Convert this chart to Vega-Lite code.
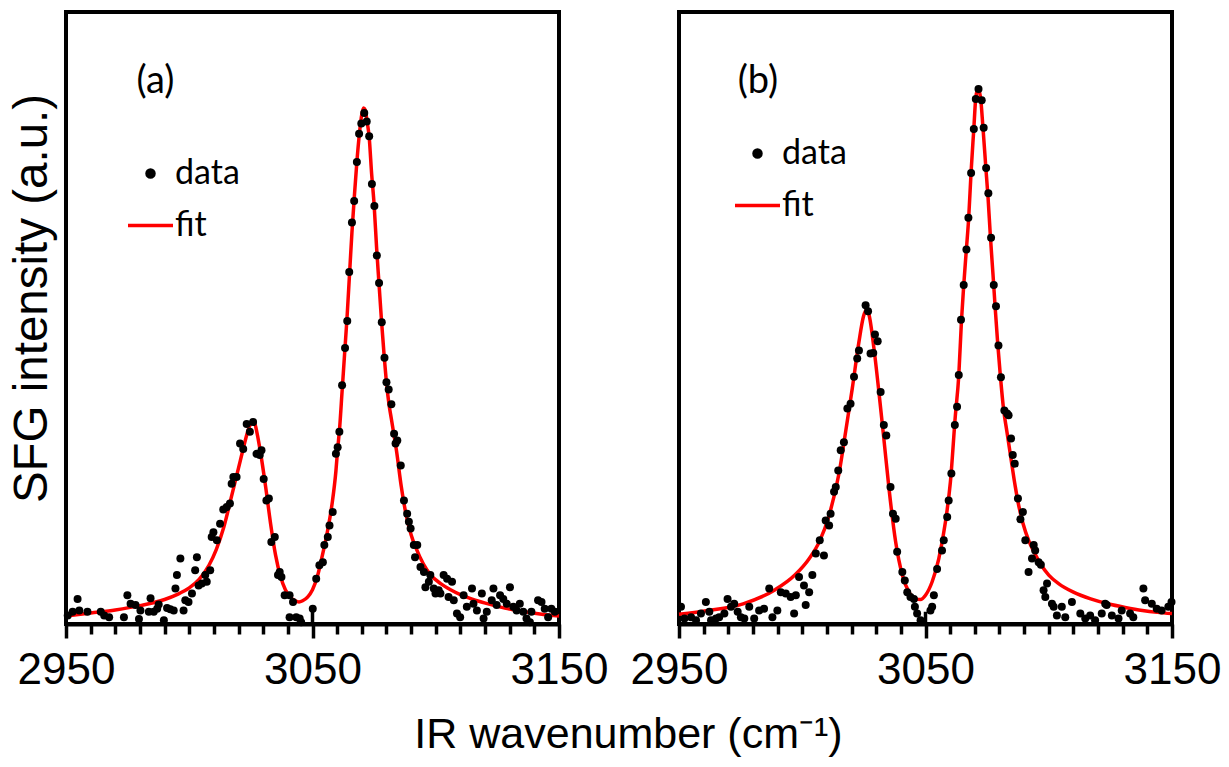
{
  "$schema": "https://vega.github.io/schema/vega-lite/v6.json",
  "background": "white",
  "padding": {"left": 6, "top": 10, "right": 5, "bottom": 5},
  "bounds": "flush",
  "spacing": 120,
  "title": {
    "text": "IR wavenumber (cm⁻¹)",
    "orient": "bottom",
    "anchor": "middle",
    "font": "Liberation Sans",
    "fontSize": 43,
    "fontWeight": "normal",
    "color": "black",
    "offset": 20,
    "dx": 14
  },
  "datasets": {
    "fit_a": [
      {"wn": 2950, "sfg": 1.3}, {"wn": 2960, "sfg": 1.8}, {"wn": 2970, "sfg": 2.3}, {"wn": 2980, "sfg": 3.0},
      {"wn": 2990, "sfg": 4.0}, {"wn": 2995, "sfg": 4.8}, {"wn": 3000, "sfg": 5.9}, {"wn": 3004, "sfg": 7.3},
      {"wn": 3008, "sfg": 9.6}, {"wn": 3011, "sfg": 12.2}, {"wn": 3014, "sfg": 15.8}, {"wn": 3017, "sfg": 20.6},
      {"wn": 3020, "sfg": 25.5}, {"wn": 3022, "sfg": 28.8}, {"wn": 3024, "sfg": 31.8}, {"wn": 3025.5, "sfg": 33.0},
      {"wn": 3026.5, "sfg": 32.8}, {"wn": 3027.5, "sfg": 31.2}, {"wn": 3029, "sfg": 27.8}, {"wn": 3031, "sfg": 22.4},
      {"wn": 3033, "sfg": 16.4}, {"wn": 3035, "sfg": 11.3}, {"wn": 3037, "sfg": 7.8}, {"wn": 3039, "sfg": 5.6},
      {"wn": 3041, "sfg": 4.4}, {"wn": 3043, "sfg": 3.8}, {"wn": 3044.5, "sfg": 3.6}, {"wn": 3046, "sfg": 3.8},
      {"wn": 3048, "sfg": 4.4}, {"wn": 3050, "sfg": 5.6}, {"wn": 3052, "sfg": 7.8}, {"wn": 3054, "sfg": 11.2},
      {"wn": 3056, "sfg": 15.0}, {"wn": 3058, "sfg": 19.8}, {"wn": 3059.5, "sfg": 25.0}, {"wn": 3060.2, "sfg": 28.5},
      {"wn": 3061, "sfg": 32.0}, {"wn": 3062, "sfg": 38.0}, {"wn": 3063, "sfg": 44.0}, {"wn": 3064, "sfg": 50.0},
      {"wn": 3065, "sfg": 57.0}, {"wn": 3066, "sfg": 64.0}, {"wn": 3067, "sfg": 70.0}, {"wn": 3068, "sfg": 75.5},
      {"wn": 3069, "sfg": 80.0}, {"wn": 3070, "sfg": 83.3}, {"wn": 3070.7, "sfg": 84.3}, {"wn": 3071.4, "sfg": 84.0},
      {"wn": 3072, "sfg": 82.5}, {"wn": 3073, "sfg": 79.5}, {"wn": 3074, "sfg": 73.5}, {"wn": 3075, "sfg": 68.5},
      {"wn": 3076, "sfg": 61.5}, {"wn": 3077, "sfg": 55.5}, {"wn": 3078, "sfg": 49.5}, {"wn": 3079, "sfg": 44.2},
      {"wn": 3080, "sfg": 39.5}, {"wn": 3081, "sfg": 36.0}, {"wn": 3082, "sfg": 33.5}, {"wn": 3083, "sfg": 31.0},
      {"wn": 3084, "sfg": 28.5}, {"wn": 3086, "sfg": 22.5}, {"wn": 3088, "sfg": 17.8}, {"wn": 3090, "sfg": 14.6},
      {"wn": 3092, "sfg": 12.4}, {"wn": 3095, "sfg": 9.8}, {"wn": 3098, "sfg": 8.0}, {"wn": 3102, "sfg": 6.6},
      {"wn": 3106, "sfg": 5.6}, {"wn": 3110, "sfg": 4.8}, {"wn": 3116, "sfg": 3.9}, {"wn": 3122, "sfg": 3.2},
      {"wn": 3128, "sfg": 2.6}, {"wn": 3136, "sfg": 2.0}, {"wn": 3143, "sfg": 1.6}, {"wn": 3150, "sfg": 1.3}
    ],
    "data_a": [
      {"wn": 2950.7, "sfg": 1.4}, {"wn": 2952.7, "sfg": 2.0}, {"wn": 2954.7, "sfg": 4.1}, {"wn": 2955.4, "sfg": 2.2},
      {"wn": 2958.7, "sfg": 2.0}, {"wn": 2964.1, "sfg": 2.0}, {"wn": 2965.5, "sfg": 1.4}, {"wn": 2967.5, "sfg": 1.1},
      {"wn": 2973.5, "sfg": 1.1}, {"wn": 2974.9, "sfg": 4.7}, {"wn": 2976.2, "sfg": 3.3}, {"wn": 2978.2, "sfg": 3.1},
      {"wn": 2980.2, "sfg": 2.2}, {"wn": 2979.6, "sfg": 0.8}, {"wn": 2983.6, "sfg": 2.0}, {"wn": 2984.3, "sfg": 4.2},
      {"wn": 2985.6, "sfg": 2.0}, {"wn": 2987.0, "sfg": 2.5}, {"wn": 2987.6, "sfg": 3.2}, {"wn": 2989.7, "sfg": 0.6},
      {"wn": 2991.0, "sfg": 2.6}, {"wn": 2992.3, "sfg": 2.4}, {"wn": 2993.7, "sfg": 2.2}, {"wn": 2994.4, "sfg": 5.8},
      {"wn": 2995.0, "sfg": 8.0}, {"wn": 2996.4, "sfg": 10.7}, {"wn": 2997.7, "sfg": 2.2}, {"wn": 2998.4, "sfg": 3.9},
      {"wn": 2999.7, "sfg": 3.6}, {"wn": 3001.1, "sfg": 5.0}, {"wn": 3002.4, "sfg": 8.8}, {"wn": 3003.1, "sfg": 10.9},
      {"wn": 3003.8, "sfg": 6.3}, {"wn": 3005.1, "sfg": 6.6}, {"wn": 3006.5, "sfg": 8.0}, {"wn": 3007.1, "sfg": 6.9},
      {"wn": 3008.5, "sfg": 8.8}, {"wn": 3009.1, "sfg": 14.2}, {"wn": 3009.8, "sfg": 15.0}, {"wn": 3011.2, "sfg": 13.7},
      {"wn": 3012.5, "sfg": 16.4}, {"wn": 3013.8, "sfg": 18.7}, {"wn": 3015.2, "sfg": 19.1}, {"wn": 3016.5, "sfg": 19.7},
      {"wn": 3017.2, "sfg": 22.9}, {"wn": 3017.9, "sfg": 24.0}, {"wn": 3019.2, "sfg": 24.0}, {"wn": 3020.6, "sfg": 29.5},
      {"wn": 3021.9, "sfg": 28.6}, {"wn": 3023.3, "sfg": 32.7}, {"wn": 3024.6, "sfg": 31.4}, {"wn": 3025.9, "sfg": 33.0},
      {"wn": 3027.3, "sfg": 27.8}, {"wn": 3028.6, "sfg": 27.6}, {"wn": 3029.3, "sfg": 28.4}, {"wn": 3030.2, "sfg": 23.7},
      {"wn": 3031.3, "sfg": 20.2}, {"wn": 3032.3, "sfg": 20.5}, {"wn": 3033.3, "sfg": 13.4}, {"wn": 3034.7, "sfg": 14.2},
      {"wn": 3036.0, "sfg": 8.0}, {"wn": 3036.7, "sfg": 8.5}, {"wn": 3037.4, "sfg": 7.7}, {"wn": 3038.7, "sfg": 4.7},
      {"wn": 3040.7, "sfg": 4.7}, {"wn": 3042.1, "sfg": 3.6}, {"wn": 3040.7, "sfg": 1.1}, {"wn": 3043.4, "sfg": 1.1},
      {"wn": 3044.8, "sfg": 0.9}, {"wn": 3045.4, "sfg": 0.3}, {"wn": 3050.1, "sfg": 2.5}, {"wn": 3051.5, "sfg": 7.4},
      {"wn": 3052.8, "sfg": 9.6}, {"wn": 3054.2, "sfg": 10.1}, {"wn": 3054.8, "sfg": 12.9}, {"wn": 3056.2, "sfg": 14.2},
      {"wn": 3056.9, "sfg": 16.1}, {"wn": 3058.2, "sfg": 18.3}, {"wn": 3059.5, "sfg": 27.8}, {"wn": 3060.2, "sfg": 28.9},
      {"wn": 3060.9, "sfg": 31.4}, {"wn": 3062.0, "sfg": 39.0}, {"wn": 3063.2, "sfg": 45.1}, {"wn": 3064.1, "sfg": 49.5},
      {"wn": 3064.9, "sfg": 57.5}, {"wn": 3066.0, "sfg": 65.6}, {"wn": 3066.9, "sfg": 69.1}, {"wn": 3068.0, "sfg": 75.5},
      {"wn": 3068.9, "sfg": 80.1}, {"wn": 3069.8, "sfg": 81.8}, {"wn": 3071.0, "sfg": 83.5}, {"wn": 3072.0, "sfg": 82.1},
      {"wn": 3073.0, "sfg": 79.7}, {"wn": 3074.1, "sfg": 71.9}, {"wn": 3075.1, "sfg": 68.3}, {"wn": 3076.1, "sfg": 60.2},
      {"wn": 3077.0, "sfg": 55.7}, {"wn": 3078.1, "sfg": 49.3}, {"wn": 3079.2, "sfg": 43.5}, {"wn": 3080.0, "sfg": 39.5},
      {"wn": 3080.9, "sfg": 38.3}, {"wn": 3082.0, "sfg": 35.9}, {"wn": 3083.1, "sfg": 31.1}, {"wn": 3083.7, "sfg": 29.5},
      {"wn": 3084.4, "sfg": 30.0}, {"wn": 3085.8, "sfg": 25.9}, {"wn": 3087.1, "sfg": 20.2}, {"wn": 3088.4, "sfg": 18.0},
      {"wn": 3089.1, "sfg": 16.7}, {"wn": 3089.8, "sfg": 15.6}, {"wn": 3091.1, "sfg": 12.9}, {"wn": 3092.5, "sfg": 12.9},
      {"wn": 3091.6, "sfg": 10.9}, {"wn": 3093.8, "sfg": 9.3}, {"wn": 3095.2, "sfg": 8.5}, {"wn": 3095.8, "sfg": 6.0},
      {"wn": 3097.2, "sfg": 6.9}, {"wn": 3097.8, "sfg": 8.0}, {"wn": 3099.2, "sfg": 5.8}, {"wn": 3099.9, "sfg": 5.0},
      {"wn": 3101.2, "sfg": 5.5}, {"wn": 3101.9, "sfg": 5.0}, {"wn": 3103.2, "sfg": 8.0}, {"wn": 3104.6, "sfg": 7.4},
      {"wn": 3105.2, "sfg": 4.4}, {"wn": 3106.6, "sfg": 6.9}, {"wn": 3107.3, "sfg": 3.9}, {"wn": 3108.6, "sfg": 1.7},
      {"wn": 3109.9, "sfg": 1.1}, {"wn": 3111.3, "sfg": 4.7}, {"wn": 3112.6, "sfg": 2.8}, {"wn": 3114.7, "sfg": 5.8},
      {"wn": 3115.3, "sfg": 3.3}, {"wn": 3116.7, "sfg": 2.2}, {"wn": 3118.7, "sfg": 5.0}, {"wn": 3119.4, "sfg": 0.9},
      {"wn": 3120.7, "sfg": 2.0}, {"wn": 3122.7, "sfg": 3.9}, {"wn": 3123.4, "sfg": 5.8}, {"wn": 3124.7, "sfg": 3.1},
      {"wn": 3126.1, "sfg": 4.7}, {"wn": 3127.4, "sfg": 4.1}, {"wn": 3128.8, "sfg": 3.3}, {"wn": 3130.1, "sfg": 6.0},
      {"wn": 3131.5, "sfg": 2.8}, {"wn": 3132.8, "sfg": 2.2}, {"wn": 3134.1, "sfg": 3.3}, {"wn": 3135.5, "sfg": 2.0},
      {"wn": 3136.8, "sfg": 0.9}, {"wn": 3138.2, "sfg": 0.3}, {"wn": 3138.8, "sfg": 2.0}, {"wn": 3141.5, "sfg": 3.9},
      {"wn": 3142.9, "sfg": 3.6}, {"wn": 3144.2, "sfg": 2.5}, {"wn": 3145.6, "sfg": 1.1}, {"wn": 3146.9, "sfg": 2.5},
      {"wn": 3148.3, "sfg": 2.0}
    ],
    "fit_b": [
      {"wn": 2950, "sfg": 1.6}, {"wn": 2962, "sfg": 2.2}, {"wn": 2976, "sfg": 3.3}, {"wn": 2989, "sfg": 5.6},
      {"wn": 2997, "sfg": 8.0}, {"wn": 3003, "sfg": 10.8}, {"wn": 3007, "sfg": 13.5}, {"wn": 3011, "sfg": 17.9},
      {"wn": 3015, "sfg": 24.8}, {"wn": 3017.6, "sfg": 31.4}, {"wn": 3020.3, "sfg": 38.5}, {"wn": 3023, "sfg": 46.1},
      {"wn": 3024.8, "sfg": 50.2}, {"wn": 3026, "sfg": 51.4}, {"wn": 3027.1, "sfg": 50.5}, {"wn": 3029.1, "sfg": 45.0},
      {"wn": 3031.1, "sfg": 37.9}, {"wn": 3033.1, "sfg": 30.3}, {"wn": 3035.2, "sfg": 22.1}, {"wn": 3037.9, "sfg": 13.4},
      {"wn": 3040.6, "sfg": 8.0}, {"wn": 3043.3, "sfg": 5.2}, {"wn": 3046, "sfg": 4.1}, {"wn": 3048, "sfg": 4.0},
      {"wn": 3050, "sfg": 4.7}, {"wn": 3052.7, "sfg": 6.9}, {"wn": 3055.4, "sfg": 10.7}, {"wn": 3058.1, "sfg": 16.7},
      {"wn": 3060.1, "sfg": 23.2}, {"wn": 3062.1, "sfg": 34.0}, {"wn": 3063.5, "sfg": 40.6}, {"wn": 3064.6, "sfg": 49.6},
      {"wn": 3065.5, "sfg": 55.3}, {"wn": 3066.6, "sfg": 61.3}, {"wn": 3067.5, "sfg": 66.2}, {"wn": 3068.5, "sfg": 73.9},
      {"wn": 3069.6, "sfg": 80.9}, {"wn": 3070.4, "sfg": 86.0}, {"wn": 3071.3, "sfg": 87.5}, {"wn": 3072.3, "sfg": 86.1},
      {"wn": 3073.3, "sfg": 81.2}, {"wn": 3074.4, "sfg": 75.0}, {"wn": 3075.4, "sfg": 69.5}, {"wn": 3076.3, "sfg": 63.5},
      {"wn": 3077.4, "sfg": 57.0}, {"wn": 3078.3, "sfg": 51.5}, {"wn": 3079.3, "sfg": 45.8}, {"wn": 3080.4, "sfg": 40.4},
      {"wn": 3081.7, "sfg": 35.0}, {"wn": 3083, "sfg": 31.5}, {"wn": 3084.5, "sfg": 27.5}, {"wn": 3086, "sfg": 23.5},
      {"wn": 3087.5, "sfg": 20.0}, {"wn": 3089.5, "sfg": 16.5}, {"wn": 3092, "sfg": 13.5}, {"wn": 3094, "sfg": 11.8},
      {"wn": 3097, "sfg": 9.6}, {"wn": 3100, "sfg": 8.0}, {"wn": 3104, "sfg": 6.6}, {"wn": 3110, "sfg": 5.2},
      {"wn": 3117, "sfg": 4.1}, {"wn": 3124, "sfg": 3.3}, {"wn": 3131, "sfg": 2.7}, {"wn": 3138, "sfg": 2.2},
      {"wn": 3144, "sfg": 1.9}, {"wn": 3150, "sfg": 1.7}
    ],
    "data_b": [
      {"wn": 2950.8, "sfg": 2.8}, {"wn": 2952.2, "sfg": 0.9}, {"wn": 2954.9, "sfg": 1.1}, {"wn": 2956.9, "sfg": 0.6},
      {"wn": 2958.9, "sfg": 1.7}, {"wn": 2960.9, "sfg": 3.6}, {"wn": 2962.3, "sfg": 2.0}, {"wn": 2963.0, "sfg": 0.6},
      {"wn": 2965.0, "sfg": 0.9}, {"wn": 2966.3, "sfg": 1.1}, {"wn": 2968.4, "sfg": 1.7}, {"wn": 2969.7, "sfg": 4.1},
      {"wn": 2971.1, "sfg": 2.8}, {"wn": 2972.4, "sfg": 3.3}, {"wn": 2973.8, "sfg": 2.0}, {"wn": 2975.1, "sfg": 1.1},
      {"wn": 2976.5, "sfg": 0.9}, {"wn": 2978.5, "sfg": 2.8}, {"wn": 2980.5, "sfg": 0.9}, {"wn": 2982.5, "sfg": 2.2},
      {"wn": 2984.5, "sfg": 2.5}, {"wn": 2986.6, "sfg": 5.8}, {"wn": 2987.9, "sfg": 1.1}, {"wn": 2989.9, "sfg": 2.2},
      {"wn": 2991.3, "sfg": 5.2}, {"wn": 2993.3, "sfg": 5.0}, {"wn": 2995.3, "sfg": 4.4}, {"wn": 2996.7, "sfg": 1.7},
      {"wn": 2997.4, "sfg": 4.7}, {"wn": 2998.7, "sfg": 7.7}, {"wn": 3000.7, "sfg": 6.3}, {"wn": 3001.4, "sfg": 3.1},
      {"wn": 3002.8, "sfg": 5.2}, {"wn": 3004.1, "sfg": 8.0}, {"wn": 3005.5, "sfg": 11.5}, {"wn": 3007.1, "sfg": 13.7},
      {"wn": 3008.8, "sfg": 11.2}, {"wn": 3009.5, "sfg": 16.9}, {"wn": 3010.9, "sfg": 16.1}, {"wn": 3011.5, "sfg": 18.0},
      {"wn": 3012.9, "sfg": 21.6}, {"wn": 3013.6, "sfg": 22.4}, {"wn": 3014.6, "sfg": 25.1}, {"wn": 3015.6, "sfg": 28.4},
      {"wn": 3016.9, "sfg": 29.7}, {"wn": 3018.3, "sfg": 35.2}, {"wn": 3019.6, "sfg": 36.0}, {"wn": 3021.0, "sfg": 40.4},
      {"wn": 3022.3, "sfg": 43.4}, {"wn": 3023.0, "sfg": 44.7}, {"wn": 3025.7, "sfg": 52.1}, {"wn": 3026.7, "sfg": 51.1},
      {"wn": 3027.7, "sfg": 44.2}, {"wn": 3028.8, "sfg": 44.3}, {"wn": 3029.5, "sfg": 47.3}, {"wn": 3030.6, "sfg": 46.2},
      {"wn": 3031.8, "sfg": 37.9}, {"wn": 3033.1, "sfg": 32.5}, {"wn": 3034.1, "sfg": 30.8}, {"wn": 3035.8, "sfg": 22.4},
      {"wn": 3036.8, "sfg": 18.0}, {"wn": 3037.9, "sfg": 17.2}, {"wn": 3038.5, "sfg": 11.8}, {"wn": 3040.6, "sfg": 8.5},
      {"wn": 3041.6, "sfg": 7.1}, {"wn": 3042.6, "sfg": 5.2}, {"wn": 3043.9, "sfg": 4.4}, {"wn": 3045.3, "sfg": 4.1},
      {"wn": 3045.7, "sfg": 2.8}, {"wn": 3046.6, "sfg": 1.7}, {"wn": 3048.0, "sfg": 0.6}, {"wn": 3052.0, "sfg": 2.2},
      {"wn": 3052.7, "sfg": 2.8}, {"wn": 3053.4, "sfg": 4.7}, {"wn": 3054.7, "sfg": 9.0}, {"wn": 3056.7, "sfg": 12.0},
      {"wn": 3057.4, "sfg": 13.7}, {"wn": 3058.8, "sfg": 17.5}, {"wn": 3059.4, "sfg": 20.2}, {"wn": 3060.5, "sfg": 24.6},
      {"wn": 3061.9, "sfg": 32.5}, {"wn": 3062.8, "sfg": 35.5}, {"wn": 3063.5, "sfg": 40.7}, {"wn": 3064.4, "sfg": 49.7},
      {"wn": 3065.5, "sfg": 55.4}, {"wn": 3066.6, "sfg": 61.2}, {"wn": 3067.4, "sfg": 66.4}, {"wn": 3068.5, "sfg": 73.7},
      {"wn": 3069.6, "sfg": 80.9}, {"wn": 3070.4, "sfg": 85.8}, {"wn": 3071.5, "sfg": 87.4}, {"wn": 3072.8, "sfg": 85.6},
      {"wn": 3073.6, "sfg": 81.1}, {"wn": 3074.6, "sfg": 74.5}, {"wn": 3075.5, "sfg": 70.4}, {"wn": 3076.6, "sfg": 63.1},
      {"wn": 3077.7, "sfg": 55.4}, {"wn": 3078.6, "sfg": 51.9}, {"wn": 3079.6, "sfg": 45.5}, {"wn": 3080.6, "sfg": 40.3},
      {"wn": 3082.0, "sfg": 34.9}, {"wn": 3083.1, "sfg": 34.4}, {"wn": 3083.7, "sfg": 34.1}, {"wn": 3084.7, "sfg": 30.3},
      {"wn": 3085.4, "sfg": 27.6}, {"wn": 3086.2, "sfg": 26.2}, {"wn": 3087.5, "sfg": 20.5}, {"wn": 3089.5, "sfg": 18.3},
      {"wn": 3088.5, "sfg": 17.1}, {"wn": 3090.5, "sfg": 13.7}, {"wn": 3093.9, "sfg": 12.9}, {"wn": 3094.5, "sfg": 12.0},
      {"wn": 3093.2, "sfg": 10.7}, {"wn": 3095.9, "sfg": 10.1}, {"wn": 3096.8, "sfg": 9.7}, {"wn": 3091.8, "sfg": 8.5},
      {"wn": 3097.9, "sfg": 5.5}, {"wn": 3098.6, "sfg": 4.4}, {"wn": 3099.3, "sfg": 6.6}, {"wn": 3101.3, "sfg": 3.3},
      {"wn": 3102.0, "sfg": 2.8}, {"wn": 3103.3, "sfg": 1.4}, {"wn": 3105.3, "sfg": 2.8}, {"wn": 3106.7, "sfg": 1.1},
      {"wn": 3109.4, "sfg": 3.6}, {"wn": 3112.8, "sfg": 1.7}, {"wn": 3114.8, "sfg": 0.9}, {"wn": 3116.8, "sfg": 1.4},
      {"wn": 3118.8, "sfg": 0.6}, {"wn": 3121.5, "sfg": 1.7}, {"wn": 3122.9, "sfg": 3.3}, {"wn": 3123.5, "sfg": 3.1},
      {"wn": 3125.6, "sfg": 1.4}, {"wn": 3128.3, "sfg": 0.9}, {"wn": 3129.6, "sfg": 2.2}, {"wn": 3133.0, "sfg": 1.7},
      {"wn": 3134.3, "sfg": 1.1}, {"wn": 3138.4, "sfg": 5.8}, {"wn": 3139.1, "sfg": 3.9}, {"wn": 3141.8, "sfg": 3.3},
      {"wn": 3143.8, "sfg": 2.5}, {"wn": 3145.8, "sfg": 2.2}, {"wn": 3148.5, "sfg": 2.8}, {"wn": 3149.8, "sfg": 3.6}
    ]
  },
  "resolve": {"legend": {"color": "independent"}},
  "hconcat": [
    {
      "width": 493,
      "height": 612,
      "layer": [
        {
          "data": {"name": "fit_a"},
          "mark": {"type": "line", "strokeWidth": 3.5, "interpolate": "monotone"},
          "encoding": {
            "x": {"field": "wn", "type": "quantitative"},
            "y": {"field": "sfg", "type": "quantitative"},
            "color": {
              "datum": "fit",
              "type": "nominal",
              "scale": {"domain": ["data", "fit"], "range": ["#000000", "#ff0000"]},
              "legend": {
                "orient": "none", "legendX": 60, "legendY": 137, "title": null,
                "labelFont": "Lato", "labelFontSize": 34, "labelColor": "black", "labelOffset": 0,
                "symbolSize": 2025, "symbolStrokeWidth": 3.5, "rowPadding": 10,
                "encode": {"symbols": {"update": {
                  "shape": {"signal": "datum.value === 'data' ? 'circle' : 'stroke'"},
                  "size": {"signal": "datum.value === 'data' ? 49 : 2025"},
                  "fill": {"signal": "datum.value === 'data' ? '#000000' : 'transparent'"},
                  "stroke": {"signal": "datum.value === 'data' ? 'transparent' : '#ff0000'"},
                  "strokeWidth": {"value": 3.5}
                }}}
              }
            }
          }
        },
        {
          "data": {"name": "data_a"},
          "mark": {"type": "point", "filled": true, "size": 64, "opacity": 1},
          "encoding": {
            "x": {"field": "wn", "type": "quantitative"},
            "y": {"field": "sfg", "type": "quantitative"},
            "color": {"datum": "data", "type": "nominal"}
          }
        },
        {
          "data": {"values": [{}]},
          "mark": {"type": "rule", "strokeWidth": 3.5, "color": "black"},
          "encoding": {"x": {"datum": 3050, "type": "quantitative"}, "y": {"datum": 0, "type": "quantitative"}, "y2": {"datum": 2}}
        },
        {
          "data": {"values": [{}]},
          "mark": {"type": "text", "font": "Lato", "fontSize": 38, "color": "black", "align": "center", "baseline": "middle"},
          "encoding": {"x": {"datum": 2986.3, "type": "quantitative"}, "y": {"datum": 88.6, "type": "quantitative"}, "text": {"value": "(a)"}}
        }
      ],
      "encoding": {
        "x": {
          "type": "quantitative",
          "scale": {"domain": [2950, 3150], "nice": false, "zero": false},
          "axis": {
            "title": null, "values": [2950, 2960, 2970, 2980, 2990, 3000, 3010, 3020, 3030, 3040, 3050, 3060, 3070, 3080, 3090, 3100, 3110, 3120, 3130, 3140, 3150],
            "format": "d", "labelExpr": "datum.value % 100 === 50 ? datum.label : ''",
            "labelFont": "Liberation Sans", "labelFontSize": 44, "labelColor": "black", "labelFlush": false, "labelOverlap": false,
            "labelPadding": 10, "grid": false, "domainColor": "black", "domainWidth": 4,
            "tickColor": "black", "tickWidth": 3.5,
            "tickSize": {"condition": {"test": "datum.value % 100 === 50", "value": 14}, "value": 10}
          }
        },
        "y": {
          "type": "quantitative",
          "scale": {"domain": [0, 100], "nice": false, "zero": false},
          "axis": {
            "title": "SFG intensity (a.u.)", "labels": false, "ticks": false, "domain": false, "grid": false,
            "titleFont": "Liberation Sans", "titleFontSize": 47.5, "titleFontWeight": "normal", "titleColor": "black",
            "titlePadding": 10, "titleY": 286
          }
        }
      }
    },
    {
      "width": 493,
      "height": 612,
      "layer": [
        {
          "data": {"name": "fit_b"},
          "mark": {"type": "line", "strokeWidth": 3.5, "interpolate": "monotone"},
          "encoding": {
            "x": {"field": "wn", "type": "quantitative"},
            "y": {"field": "sfg", "type": "quantitative"},
            "color": {
              "datum": "fit",
              "type": "nominal",
              "scale": {"domain": ["data", "fit"], "range": ["#000000", "#ff0000"]},
              "legend": {
                "orient": "none", "legendX": 54, "legendY": 117, "title": null,
                "labelFont": "Lato", "labelFontSize": 34, "labelColor": "black", "labelOffset": 0,
                "symbolSize": 2025, "symbolStrokeWidth": 3.5, "rowPadding": 10,
                "encode": {"symbols": {"update": {
                  "shape": {"signal": "datum.value === 'data' ? 'circle' : 'stroke'"},
                  "size": {"signal": "datum.value === 'data' ? 49 : 2025"},
                  "fill": {"signal": "datum.value === 'data' ? '#000000' : 'transparent'"},
                  "stroke": {"signal": "datum.value === 'data' ? 'transparent' : '#ff0000'"},
                  "strokeWidth": {"value": 3.5}
                }}}
              }
            }
          }
        },
        {
          "data": {"name": "data_b"},
          "mark": {"type": "point", "filled": true, "size": 64, "opacity": 1},
          "encoding": {
            "x": {"field": "wn", "type": "quantitative"},
            "y": {"field": "sfg", "type": "quantitative"},
            "color": {"datum": "data", "type": "nominal"}
          }
        },
        {
          "data": {"values": [{}]},
          "mark": {"type": "rule", "strokeWidth": 3.5, "color": "black"},
          "encoding": {"x": {"datum": 3050, "type": "quantitative"}, "y": {"datum": 0, "type": "quantitative"}, "y2": {"datum": 2}}
        },
        {
          "data": {"values": [{}]},
          "mark": {"type": "text", "font": "Lato", "fontSize": 38, "color": "black", "align": "center", "baseline": "middle"},
          "encoding": {"x": {"datum": 2982.0, "type": "quantitative"}, "y": {"datum": 88.6, "type": "quantitative"}, "text": {"value": "(b)"}}
        }
      ],
      "encoding": {
        "x": {
          "type": "quantitative",
          "scale": {"domain": [2950, 3150], "nice": false, "zero": false},
          "axis": {
            "title": null, "values": [2950, 2960, 2970, 2980, 2990, 3000, 3010, 3020, 3030, 3040, 3050, 3060, 3070, 3080, 3090, 3100, 3110, 3120, 3130, 3140, 3150],
            "format": "d", "labelExpr": "datum.value % 100 === 50 ? datum.label : ''",
            "labelFont": "Liberation Sans", "labelFontSize": 44, "labelColor": "black", "labelFlush": false, "labelOverlap": false,
            "labelPadding": 10, "grid": false, "domainColor": "black", "domainWidth": 4,
            "tickColor": "black", "tickWidth": 3.5,
            "tickSize": {"condition": {"test": "datum.value % 100 === 50", "value": 14}, "value": 10}
          }
        },
        "y": {
          "type": "quantitative",
          "scale": {"domain": [0, 100], "nice": false, "zero": false},
          "axis": null
        }
      }
    }
  ],
  "config": {
    "view": {"stroke": "black", "strokeWidth": 4},
    "font": "Liberation Sans"
  }
}
